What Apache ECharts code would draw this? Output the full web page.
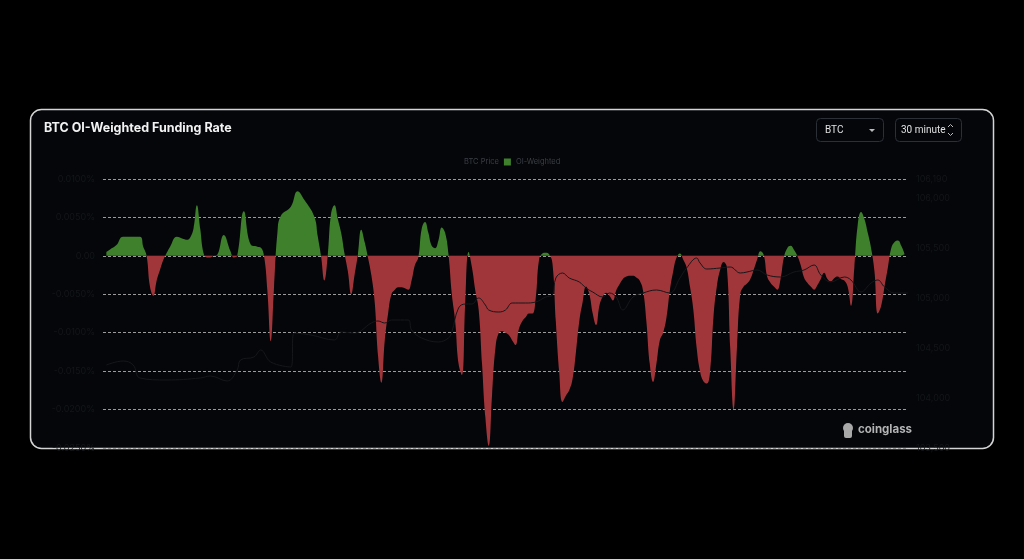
<!DOCTYPE html>
<html>
<head>
<meta charset="utf-8">
<script src="https://cdn.jsdelivr.net/npm/echarts@6/dist/echarts.min.js"></script>
<style>
html,body{margin:0;padding:0;background:#000;}
#c{width:1024px;height:559px;}
</style>
</head>
<body>
<div id="c"></div>
<script>
// 30-minute slot index (0..240) and OI-weighted funding rate (%)
var fundSlots = [1,2,4,6,11,12,13,14,15,16,17,18,19,20,22,24,25,26,27,28,29,30,31,32,33,34,36,38,39,40,42,44,46,47,48,49,50,51,52,53,56,58,60,63,64,65,66,67,68,69,70,71,72,73,74,75,76,77,78,79,80,81,82,83,84,85,86,87,88,90,91,92,93,94,95,96,97,98,99,100,101,102,103,104,105,106,107,108,109,110,111,112,113,114,115,116,117,118,119,120,121,122,123,124,125,126,127,128,129,130,131,132,133,134,135,136,137,138,139,140,141,142,143,144,145,146,147,148,149,150,151,152,153,154,155,156,157,158,159,160,161,162,163,164,165,166,167,168,169,170,171,172,173,174,175,176,177,178,179,180,181,182,183,184,185,186,187,188,189,190,191,192,193,194,195,196,197,198,199,200,201,202,203,204,205,206,207,208,209,210,211,212,213,214,215,216,217,218,219,220,221,222,223,224,225,226,227,228,229,230,231,232,233,234,235,236,237,238,239];
var fundRate = [0.0005,0.0008,0.0014,0.0025,0.0025,0.0012,0,-0.0040,-0.0052,-0.0032,-0.0018,-0.0005,0.0004,0.0012,0.0025,0.0022,0.0021,0.0024,0.0036,0.0066,0.0035,0.0003,-0.0002,-0.0002,0,0.0001,0.0027,0.0006,-0.0002,0,0.0058,0.0015,0.0012,0.0011,0,-0.0045,-0.0111,-0.0040,0.0030,0.0052,0.0064,0.0084,0.0073,0.0051,0.0026,0,-0.0032,0,0.0055,0.0066,0.0048,0.0030,0.0003,-0.0020,-0.0050,-0.0025,0.0002,0.0034,0.0018,-0.0002,-0.0025,-0.0060,-0.0130,-0.0165,-0.0110,-0.0075,-0.0050,-0.0044,-0.0041,-0.0042,-0.0044,-0.0032,-0.0012,-0.0002,0.0035,0.0044,0.0030,0.0013,0.0010,0.0020,0.0037,0.0030,0.0002,-0.0050,-0.0085,-0.0140,-0.0155,-0.0060,0.0005,-0.0015,-0.0045,-0.0070,-0.0140,-0.0210,-0.0247,-0.0180,-0.0120,-0.0100,-0.0098,-0.0100,-0.0103,-0.0110,-0.0116,-0.0095,-0.0085,-0.0080,-0.0075,-0.0075,-0.0055,-0.0005,0.0003,0.0004,0.0002,-0.0010,-0.0085,-0.0150,-0.0190,-0.0182,-0.0175,-0.0160,-0.0125,-0.0085,-0.0060,-0.0040,-0.0050,-0.0075,-0.0090,-0.0065,-0.0053,-0.0048,-0.0052,-0.0058,-0.0045,-0.0037,-0.0030,-0.0027,-0.0026,-0.0026,-0.0028,-0.0032,-0.0045,-0.0085,-0.0140,-0.0164,-0.0140,-0.0110,-0.0100,-0.0080,-0.0045,-0.0020,-0.0002,0.0003,-0.0005,-0.0015,-0.0040,-0.0070,-0.0120,-0.0150,-0.0163,-0.0166,-0.0150,-0.0080,-0.0040,-0.0018,-0.0008,-0.0015,-0.0120,-0.0200,-0.0120,-0.0050,-0.0040,-0.0036,-0.0030,-0.0018,-0.0005,0.0006,0.0001,-0.0027,-0.0035,-0.0040,-0.0044,-0.0030,-0.0002,0.0010,0.0013,0.0008,0,-0.0012,-0.0028,-0.0035,-0.0040,-0.0044,-0.0038,-0.0030,-0.0022,-0.0030,-0.0033,-0.0029,-0.0027,-0.0030,-0.0032,-0.0040,-0.0065,-0.0015,0.0040,0.0057,0.0048,0.0030,0.0010,-0.0020,-0.0075,-0.0065,-0.0040,-0.0015,0.0010,0.0018,0.0020,0.0013,0.0002];

// BTC price (USD) at 30-minute slot index
var priceSlots = [1,6,9,11,19,29,32,37,40,41,45,47,50,56,57,62,69,71,75,80,82,84,86,91,92,95,100,103,104,106,108,110,112,114,115,118,120,122,126,129,132,134,135,137,139,142,144,146,149,151,153,155,158,161,165,169,172,174,177,178,180,184,187,190,192,195,198,202,206,209,212,214,217,221,223,226,229,231,233,236,240];
var btcPrice = [104330,104370,104330,104200,104180,104200,104220,104170,104280,104380,104410,104480,104360,104310,104650,104630,104580,104660,104650,104750,104770,104750,104780,104780,104680,104600,104560,104600,104660,104900,104940,104940,105000,104930,104880,104860,104880,104950,104950,104960,105010,105030,105200,105250,105200,105160,105100,105060,105010,105050,105010,104880,105010,105050,105080,105050,105200,105300,105400,105350,105290,105300,105310,105250,105260,105280,105230,105210,105260,105280,105330,105230,105160,105210,105180,105060,105150,105180,105110,105050,105050];

var fundAxisTicks = [-0.025, 0.01, 0.005];   // min, max, interval
var priceAxisTicks = [103500, 106190, 500];  // min, max, interval

var GREEN = '#3e802c', RED = '#a1363a', PRICE = '#15171a';
var W = 1024, H = 559;
var GRID = {left:103, right:116, top:179, bottom:111};

var fundData = fundSlots.map(function(s,i){return [s, fundRate[i]];});
var priceData = priceSlots.map(function(s,i){return [s, btcPrice[i]];});

// gradient split exactly at the zero line of the funding axis (grid-space gradient)
var zf = (fundAxisTicks[1] - 0) / (fundAxisTicks[1] - fundAxisTicks[0]);
var areaGradient = {
  type:'linear', x:0, y:GRID.top, x2:0, y2:H - GRID.bottom, global:true,
  colorStops:[{offset:0,color:GREEN},{offset:zf,color:GREEN},{offset:zf,color:RED},{offset:1,color:RED}]
};

var chart = echarts.init(document.getElementById('c'), null, {renderer:'canvas'});
var FONT = 'Inter, "Noto Sans", sans-serif';

chart.setOption({
  backgroundColor: '#000',
  animation: false,
  textStyle: {fontFamily: FONT},
  graphic: [
    {type:'rect', z:-10, shape:{x:30.5, y:109.5, width:963, height:339, r:11},
     style:{fill:'#04060a', stroke:'#d4d4d4', lineWidth:1.5}},
    {type:'text', left:44, top:122, style:{text:'BTC OI-Weighted Funding Rate', fill:'#f2f2f2', font:'bold 12.5px ' + FONT}},
    {type:'rect', shape:{x:816.5, y:118.5, width:67, height:23, r:4}, style:{fill:'none', stroke:'#2b2f36', lineWidth:1}},
    {type:'text', left:825, top:125, style:{text:'BTC', fill:'#e0e0e0', font:'10px Roboto'}},
    {type:'polygon', shape:{points:[[869,129],[875,129],[872,132]]}, style:{fill:'#bbbbbb'}},
    {type:'rect', shape:{x:895.5, y:118.5, width:66, height:23, r:4}, style:{fill:'none', stroke:'#2b2f36', lineWidth:1}},
    {type:'text', left:901, top:125, style:{text:'30 minute', fill:'#e0e0e0', font:'10px Roboto'}},
    {type:'polyline', shape:{points:[[948,127],[950.5,124.5],[953,127]]}, style:{stroke:'#bbbbbb', lineWidth:1, fill:'none'}},
    {type:'polyline', shape:{points:[[948,133],[950.5,135.5],[953,133]]}, style:{stroke:'#bbbbbb', lineWidth:1, fill:'none'}},
    {type:'circle', shape:{cx:848, cy:428, r:5}, style:{fill:'#a9a9a9'}},
    {type:'rect', shape:{x:844, y:428, width:8, height:10, r:2}, style:{fill:'#a9a9a9'}},
    {type:'text', left:858, top:424, style:{text:'coinglass', fill:'#b4b4b4', font:'bold 11.5px ' + FONT}}
  ],
  legend: {
    top: 153, left: 447,
    itemWidth: 7, itemHeight: 7, itemGap: 5,
    textStyle: {color:'#3c3f45', fontSize: 7.5},
    data: [
      {name:'BTC Price', icon:'rect', itemStyle:{color:'#04060a'}},
      {name:'OI-Weighted', icon:'rect', itemStyle:{color:GREEN}}
    ]
  },
  grid: GRID,
  xAxis: {type:'value', min:0, max:240, show:false},
  yAxis: [
    {type:'value', min:fundAxisTicks[0], max:fundAxisTicks[1], interval:fundAxisTicks[2],
     axisLine:{show:false}, axisTick:{show:false},
     axisLabel:{color:'#141619', fontSize:9, margin:8,
       formatter:function(v){ return Math.abs(v)<1e-9 ? '0.00' : v.toFixed(4)+'%'; }},
     splitLine:{show:true, lineStyle:{color:'#9a9a9a', type:[3,2], width:1}}},
    {type:'value', position:'right', min:priceAxisTicks[0], max:priceAxisTicks[1], interval:priceAxisTicks[2],
     axisLine:{show:false}, axisTick:{show:false}, splitLine:{show:false},
     axisLabel:{color:'#141619', fontSize:9, margin:8,
       formatter:function(v){ return v.toLocaleString('en-US'); }}}
  ],
  series: [
    {name:'OI-Weighted', type:'line', yAxisIndex:0, data:fundData, smooth:0.45,
     showSymbol:false, lineStyle:{width:0}, itemStyle:{color:GREEN},
     areaStyle:{opacity:1, origin:0, color:areaGradient}, z:2},
    {name:'BTC Price', type:'line', yAxisIndex:1, data:priceData, smooth:0.4,
     showSymbol:false, lineStyle:{color:PRICE, width:1}, itemStyle:{color:PRICE}, z:3}
  ]
});
</script>
</body>
</html>
